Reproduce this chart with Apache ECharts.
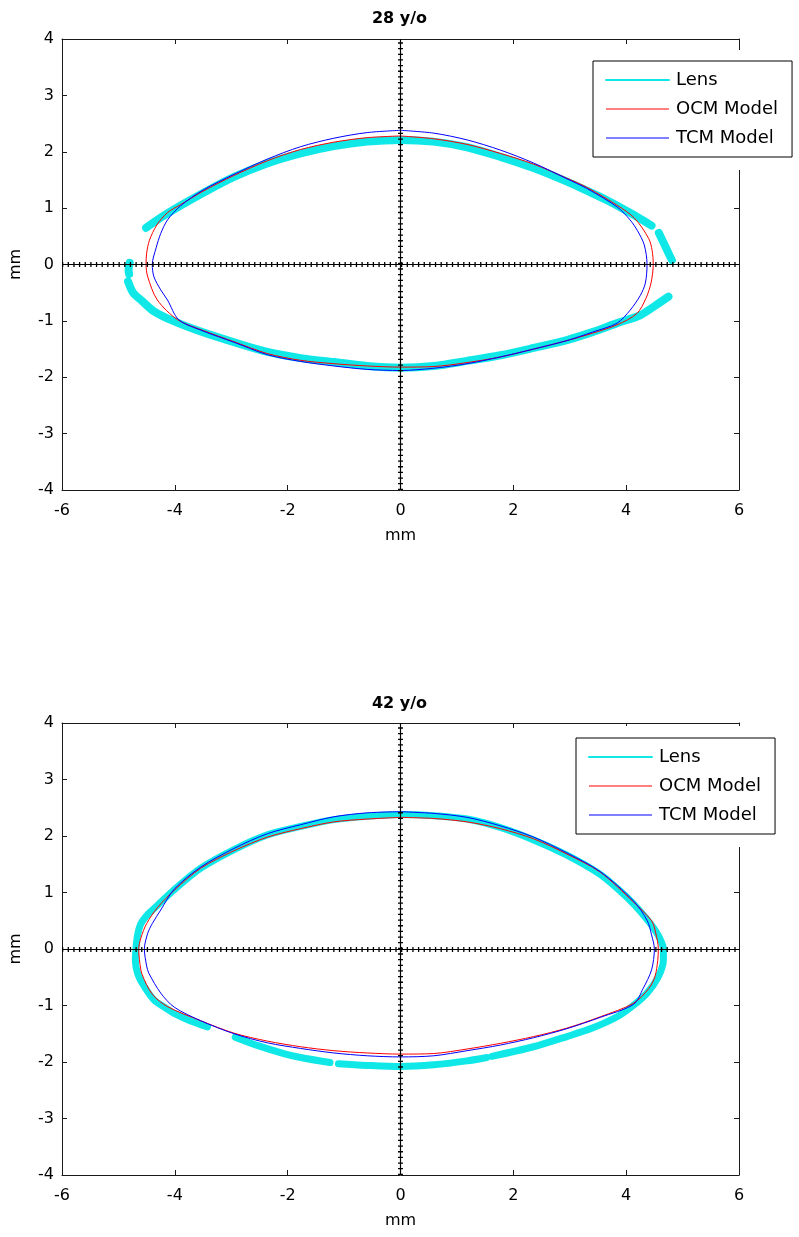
<!DOCTYPE html>
<html><head><meta charset="utf-8">
<script src="https://cdn.jsdelivr.net/npm/echarts@6/dist/echarts.min.js"></script>
<style>html,body{margin:0;padding:0;background:#fff}#c{width:799px;height:1237px}</style>
</head><body><div id="c"></div>
<script>
// ---------- text ----------
const titles = ['28 y/o', '42 y/o'];
const seriesNames = ['Lens', 'OCM Model', 'TCM Model'];
const axisName = 'mm';
// ---------- axis ranges / ticks ----------
const xRange = [-6, 6], xStep = 2;
const yRange = [-4, 4], yStep = 1;
const crossAt = 0;

// ---------- 28 y/o ----------
const lens28Upper = [[-4.51,0.65],[-4.25,0.83],[-3.89,1.05],[-3.5,1.27],[-2.96,1.55],[-2.4,1.78],[-1.77,1.97],[-1.18,2.1],[-0.59,2.18],[0,2.21],[0.58,2.18],[1.18,2.08],[1.77,1.91],[2.36,1.71],[2.95,1.47],[3.3,1.31],[3.66,1.14],[4.1,0.9],[4.45,0.69]];
const lens28RightTip = [[4.58,0.56],[4.68,0.35],[4.76,0.18],[4.81,0.08]];
const lens28LeftTip = [[-4.8,0.03],[-4.82,-0.1],[-4.81,-0.17]];
const lens28Lower = [[-4.83,-0.3],[-4.74,-0.5],[-4.6,-0.63],[-4.37,-0.83],[-4.01,-1.01],[-3.54,-1.19],[-2.95,-1.38],[-2.36,-1.55],[-1.77,-1.66],[-1.18,-1.73],[-0.59,-1.8],[0,-1.83],[0.59,-1.8],[1.18,-1.71],[1.77,-1.61],[2.36,-1.48],[2.95,-1.34],[3.4,-1.2],[3.84,-1.04],[4.25,-0.9],[4.5,-0.74],[4.75,-0.57]];
const ocm28 = [[0,2.28],[-0.59,2.25],[-1.18,2.17],[-1.77,2.04],[-2.36,1.84],[-2.95,1.58],[-3.5,1.3],[-3.9,1.06],[-4.13,0.92],[-4.32,0.7],[-4.45,0.43],[-4.5,0.2],[-4.51,0],[-4.48,-0.22],[-4.31,-0.63],[-3.95,-0.98],[-3.5,-1.17],[-2.95,-1.37],[-2.36,-1.58],[-1.77,-1.7],[-1.18,-1.76],[-0.59,-1.8],[0,-1.82],[0.59,-1.81],[1.18,-1.74],[1.77,-1.64],[2.36,-1.5],[2.95,-1.35],[3.4,-1.22],[3.84,-1.07],[4.19,-0.87],[4.35,-0.6],[4.44,-0.33],[4.48,0],[4.46,0.25],[4.4,0.46],[4.15,0.82],[3.84,1.05],[3.3,1.37],[2.95,1.53],[2.36,1.78],[1.77,1.97],[1.18,2.13],[0.59,2.23],[0,2.28]];
const tcm28 = [[0,2.38],[-0.59,2.34],[-1.18,2.24],[-1.77,2.09],[-2.36,1.87],[-2.95,1.6],[-3.5,1.32],[-3.9,1.04],[-4.13,0.79],[-4.25,0.55],[-4.33,0.3],[-4.4,0],[-4.37,-0.22],[-4.25,-0.45],[-4.13,-0.63],[-3.93,-0.98],[-3.5,-1.18],[-2.95,-1.38],[-2.36,-1.6],[-1.77,-1.72],[-1.18,-1.8],[-0.59,-1.86],[0,-1.88],[0.59,-1.84],[1.18,-1.76],[1.77,-1.64],[2.36,-1.5],[2.95,-1.35],[3.4,-1.2],[3.84,-1.04],[4.07,-0.81],[4.25,-0.55],[4.34,-0.33],[4.37,0],[4.32,0.35],[4.2,0.6],[4.07,0.79],[3.84,1.02],[3.3,1.35],[2.95,1.52],[2.36,1.8],[1.77,2.03],[1.18,2.21],[0.59,2.33],[0,2.38]];

// ---------- 42 y/o ----------
const lens42Main = [[-3.42,-1.38],[-3.75,-1.26],[-4.01,-1.14],[-4.2,-1.02],[-4.37,-0.9],[-4.55,-0.65],[-4.66,-0.43],[-4.7,-0.2],[-4.69,0],[-4.66,0.25],[-4.6,0.45],[-4.47,0.62],[-4.31,0.77],[-4.01,1.05],[-3.54,1.43],[-2.95,1.76],[-2.36,2.02],[-1.77,2.17],[-1.18,2.29],[-0.59,2.35],[0,2.38],[0.59,2.36],[1.18,2.3],[1.77,2.15],[2.36,1.93],[2.95,1.66],[3.54,1.32],[3.9,1.02],[4.13,0.8],[4.35,0.55],[4.48,0.38],[4.6,0.18],[4.66,0],[4.66,-0.19],[4.57,-0.49],[4.37,-0.78],[4.1,-1.02],[3.84,-1.2],[3.4,-1.4],[2.95,-1.55],[2.36,-1.73],[1.62,-1.9]];
const lens42Bottom = [[1.53,-1.92],[1.18,-1.98],[0.59,-2.05],[0,-2.08],[-0.59,-2.06],[-1.1,-2.03]];
const lens42BottomLeft = [[-1.25,-2.01],[-1.77,-1.92],[-2.07,-1.85],[-2.5,-1.72],[-2.93,-1.56]];
const ocm42 = [[0,2.33],[-0.59,2.3],[-1.18,2.25],[-1.77,2.13],[-2.36,1.98],[-2.95,1.74],[-3.54,1.43],[-4.01,1.04],[-4.31,0.73],[-4.5,0.45],[-4.6,0.2],[-4.64,0],[-4.62,-0.25],[-4.58,-0.45],[-4.4,-0.8],[-4.13,-1.02],[-3.54,-1.27],[-2.95,-1.49],[-2.36,-1.63],[-1.77,-1.73],[-1.18,-1.8],[-0.59,-1.84],[0,-1.86],[0.59,-1.85],[1.18,-1.77],[1.77,-1.67],[2.36,-1.55],[2.95,-1.4],[3.54,-1.2],[4.13,-0.96],[4.4,-0.7],[4.51,-0.49],[4.56,-0.2],[4.57,0],[4.52,0.3],[4.45,0.5],[4.13,0.83],[3.54,1.36],[2.95,1.68],[2.36,1.95],[1.77,2.13],[1.18,2.25],[0.59,2.31],[0,2.33]];
const tcm42 = [[0,2.43],[-0.59,2.41],[-1.18,2.34],[-1.77,2.2],[-2.36,2.04],[-2.95,1.78],[-3.54,1.45],[-4.01,1.06],[-4.25,0.69],[-4.4,0.45],[-4.48,0.28],[-4.54,0],[-4.5,-0.3],[-4.46,-0.43],[-4.25,-0.78],[-4.01,-1.03],[-3.54,-1.27],[-2.95,-1.5],[-2.36,-1.66],[-1.77,-1.76],[-1.18,-1.84],[-0.59,-1.89],[0,-1.91],[0.59,-1.89],[1.18,-1.8],[1.77,-1.7],[2.36,-1.57],[2.95,-1.41],[3.54,-1.21],[4.13,-0.98],[4.3,-0.7],[4.45,-0.37],[4.5,0],[4.45,0.25],[4.37,0.51],[4.13,0.85],[3.54,1.37],[2.95,1.7],[2.36,1.98],[1.77,2.18],[1.18,2.33],[0.59,2.4],[0,2.43]];

// ---------- styling ----------
const FONT = 'DejaVu Sans';
const CYAN = '#10e8e8', RED = '#ff0000', BLUE = '#0000ff', AX = '#1a1a1a';

const panels = [
  { lens: [lens28Upper, lens28RightTip, lens28LeftTip, lens28Lower], ocm: ocm28, tcm: tcm28, lensW: 8,
    grid: { left: 61, right: 60, top: 39, height: 451 }, titleTop: 6,
    legend: { left: 593, top: 61 }, blank: { x: 585, y: 50, w: 214, h: 120 } },
  { lens: [lens42Main, lens42Bottom, lens42BottomLeft], ocm: ocm42, tcm: tcm42, lensW: 7,
    grid: { left: 61, right: 60, top: 723, height: 452 }, titleTop: 691,
    legend: { left: 576, top: 738 }, blank: { x: 568, y: 726, w: 231, h: 121 } }
];

const grids = [], xAxes = [], yAxes = [], series = [], legends = [], titleOpts = [], graphics = [];

function xAx(gi, pos, showLabel) {
  return { type: 'value', gridIndex: gi, position: pos, min: xRange[0], max: xRange[1], interval: xStep,
    axisLine: { show: true, onZero: false, lineStyle: { color: AX, width: 1 } },
    axisTick: { show: true, inside: true, length: 5, lineStyle: { color: AX } },
    axisLabel: { show: showLabel, color: '#000', fontFamily: FONT, fontSize: 16, margin: 13 },
    splitLine: { show: false },
    name: showLabel ? axisName : '', nameLocation: 'middle', nameGap: 38,
    nameTextStyle: { color: '#000', fontFamily: FONT, fontSize: 16 } };
}
function yAx(gi, pos, showLabel) {
  return { type: 'value', gridIndex: gi, position: pos, min: yRange[0], max: yRange[1], interval: yStep,
    axisLine: { show: true, onZero: false, lineStyle: { color: AX, width: 1 } },
    axisTick: { show: true, inside: true, length: 5, lineStyle: { color: AX } },
    axisLabel: { show: showLabel, color: '#000', fontFamily: FONT, fontSize: 16, margin: 8 },
    splitLine: { show: false },
    name: showLabel ? axisName : '', nameLocation: 'middle', nameGap: 38,
    nameTextStyle: { color: '#000', fontFamily: FONT, fontSize: 16 } };
}

panels.forEach((p, gi) => {
  grids.push(Object.assign({ containLabel: false }, p.grid));
  xAxes.push(xAx(gi, 'bottom', true), xAx(gi, 'top', false));
  yAxes.push(yAx(gi, 'left', true), yAx(gi, 'right', false));
  const xi = gi * 2, yi = gi * 2;
  p.lens.forEach(seg => series.push({
    name: seriesNames[0], type: 'line', xAxisIndex: xi, yAxisIndex: yi, data: seg,
    symbol: 'none', smooth: 0.3, silent: true, animation: false, z: 2,
    itemStyle: { color: CYAN },
    lineStyle: { color: CYAN, width: p.lensW, cap: 'round', join: 'round' }
  }));
  series.push({ name: seriesNames[1], type: 'line', xAxisIndex: xi, yAxisIndex: yi, data: p.ocm,
    symbol: 'none', smooth: 0.3, silent: true, animation: false, z: 3,
    itemStyle: { color: RED }, lineStyle: { color: RED, width: 1 } });
  series.push({ name: seriesNames[2], type: 'line', xAxisIndex: xi, yAxisIndex: yi, data: p.tcm,
    symbol: 'none', smooth: 0.3, silent: true, animation: false, z: 4,
    itemStyle: { color: BLUE }, lineStyle: { color: BLUE, width: 1 } });
  // dotted "+" crosshair at 0
  [{ color: '#000', width: 1.2, type: 'solid' }, { color: '#000', width: 5, type: [1.3, 4.35] }].forEach(ls => {
    series.push({ type: 'line', xAxisIndex: xi, yAxisIndex: yi, data: [], silent: true, animation: false, z: 5,
      markLine: { silent: true, animation: false, symbol: ['none', 'none'], label: { show: false },
        emphasis: { disabled: true }, lineStyle: ls,
        data: [{ xAxis: crossAt }, { yAxis: crossAt }] } });
  });
  legends.push({
    left: p.legend.left, top: p.legend.top, orient: 'vertical', z: 10,
    selectedMode: false, backgroundColor: '#fff', borderColor: '#000', borderWidth: 1,
    padding: [10, 14, 10, 12], itemGap: 11, itemWidth: 63, itemHeight: 14,
    textStyle: { color: '#000', fontFamily: FONT, fontSize: 18, lineHeight: 18, padding: [0, 0, 0, 2] },
    data: [
      { name: seriesNames[0], itemStyle: { opacity: 0, borderWidth: 0 }, lineStyle: { width: 2, color: CYAN } },
      { name: seriesNames[1], itemStyle: { opacity: 0, borderWidth: 0 }, lineStyle: { width: 1, color: RED } },
      { name: seriesNames[2], itemStyle: { opacity: 0, borderWidth: 0 }, lineStyle: { width: 1, color: BLUE } }
    ]
  });
  titleOpts.push({ text: titles[gi], left: 'center', top: p.titleTop,
    textStyle: { color: '#000', fontFamily: FONT, fontSize: 16, fontWeight: 'bold' } });
  graphics.push({ type: 'rect', z: 8, silent: true,
    shape: { x: p.blank.x, y: p.blank.y, width: p.blank.w, height: p.blank.h },
    style: { fill: '#fff' } });
});

const chart = echarts.init(document.getElementById('c'), null, { renderer: 'canvas' });
chart.setOption({
  animation: false,
  backgroundColor: '#fff',
  title: titleOpts,
  grid: grids,
  xAxis: xAxes,
  yAxis: yAxes,
  legend: legends,
  graphic: graphics,
  series: series
});
</script>
</body></html>
